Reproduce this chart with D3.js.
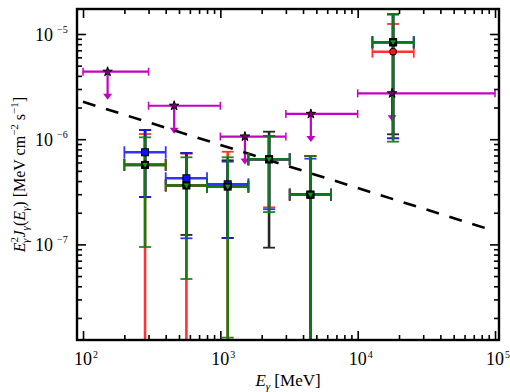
<!DOCTYPE html>
<html>
<head>
<meta charset="utf-8">
<script src="https://cdn.jsdelivr.net/npm/d3@7"></script>
<style>
body { margin: 0; background: #fff; }
text { font-family: "Liberation Serif", "Times New Roman", serif; fill: #000; }
</style>
</head>
<body>
<div id="chart"></div>
<script>
// energy bins in MeV
var binCenter = [283, 566, 1131, 2263, 4525, 18100];
var binLow = [200, 400, 800, 1600, 3200, 12800];
var binHigh = [400, 800, 1600, 3200, 6400, 25600];

// E^2 J values (MeV cm^-2 s^-1), lower and upper ends of the error bars
var blackVal = [5.69e-7, 3.63e-7, 3.54e-7, 6.44e-7, 2.97e-7, 8.34e-6];
var blackLo = [2.82e-7, 1.23e-7, 1.15e-7, 9.31e-8, 1e-10, 1.113e-6];
var blackHi = [1.22e-6, 7.39e-7, 6.30e-7, 1.179e-6, 6.92e-7, 1.538e-5];

var redVal = [5.77e-7, 3.63e-7, 3.54e-7, 6.44e-7, 2.97e-7, 6.79e-6];
var redLo = [1e-10, 1e-10, 1e-10, 2.25e-7, 1e-10, 1.02e-6];
var redHi = [1.12e-6, 7.28e-7, 7.60e-7, 1.073e-6, 6.92e-7, 1.245e-5];

var blueVal = [7.51e-7, 4.25e-7, 3.73e-7, 6.44e-7, 2.97e-7, 8.34e-6];
var blueLo = [2.82e-7, 1.143e-7, 1.15e-7, 2.16e-7, 1e-10, 1.02e-6];
var blueHi = [1.223e-6, 7.39e-7, 6.11e-7, 1.073e-6, 6.53e-7, 1.538e-5];

var greenVal = [5.69e-7, 3.63e-7, 3.54e-7, 6.44e-7, 2.97e-7, 8.34e-6];
var greenLo = [9.45e-8, 4.69e-8, 1.30e-8, 2.03e-7, 1e-10, 9.47e-7];
var greenHi = [1.042e-6, 6.73e-7, 6.73e-7, 1.073e-6, 6.92e-7, 1.538e-5];

// upper limits (magenta)
var ulE = [151, 461, 1510, 4560, 17800];
var ulLow = [100, 300, 1000, 3000, 10000];
var ulHigh = [300, 1000, 3000, 10000, 100000];
var ulVal = [4.38e-6, 2.08e-6, 1.06e-6, 1.74e-6, 2.73e-6];

// dashed power law
var lineE = [100, 100000];
var lineVal = [2.27e-6, 1.337e-7];

// ticks
var xMajor = [1e2, 1e3, 1e4, 1e5];
var xExp = ["2", "3", "4", "5"];
var yMajor = [1e-5, 1e-6, 1e-7];
var yExp = ["\u22125", "\u22126", "\u22127"];

var svgWidth = 510;
var svgHeight = 392;
var pLeft = 77, pRight = 499, pTop = 9, pBottom = 340;

var svg = d3.select("#chart")
  .append("svg")
  .attr("width", svgWidth)
  .attr("height", svgHeight);

var x = d3.scaleLog().domain([90.4, 1.069e5]).range([pLeft, pRight]);
var y = d3.scaleLog().domain([1.234e-8, 1.728e-5]).range([pBottom, pTop]);

svg.append("clipPath").attr("id", "clip")
  .append("rect")
  .attr("x", pLeft).attr("y", pTop)
  .attr("width", pRight - pLeft).attr("height", pBottom - pTop);

var plot = svg.append("g").attr("clip-path", "url(#clip)");

// minor tick values
var xMinor = [];
[1e2, 1e3, 1e4].forEach(function(d) {
  for (var k = 2; k < 10; k++) xMinor.push(k * d);
});
var yMinor = [];
[1e-8, 1e-7, 1e-6, 1e-5].forEach(function(d) {
  for (var k = 2; k < 10; k++) {
    var v = k * d;
    if (v > y.domain()[0] && v < y.domain()[1]) yMinor.push(v);
  }
});

function drawAxis(axisFn, scale, vals, len, tr) {
  var g = svg.append("g")
    .attr("transform", tr)
    .call(axisFn(scale).tickValues(vals).tickSize(-len).tickFormat(""));
  g.select(".domain").remove();
  g.selectAll("line").attr("stroke", "#000").attr("stroke-width", 1.6);
}

drawAxis(d3.axisBottom, x, xMajor, 9, `translate(0,${pBottom})`);
drawAxis(d3.axisBottom, x, xMinor, 5, `translate(0,${pBottom})`);
drawAxis(d3.axisTop, x, xMajor, 9, `translate(0,${pTop})`);
drawAxis(d3.axisTop, x, xMinor, 5, `translate(0,${pTop})`);
drawAxis(d3.axisLeft, y, yMajor, 9, `translate(${pLeft},0)`);
drawAxis(d3.axisLeft, y, yMinor, 5, `translate(${pLeft},0)`);
drawAxis(d3.axisRight, y, yMajor, 9, `translate(${pRight},0)`);
drawAxis(d3.axisRight, y, yMinor, 5, `translate(${pRight},0)`);

svg.append("rect")
  .attr("x", pLeft).attr("y", pTop)
  .attr("width", pRight - pLeft).attr("height", pBottom - pTop)
  .attr("fill", "none")
  .attr("stroke", "#000")
  .attr("stroke-width", 2.4);

// tick labels
xMajor.forEach(function(d, i) {
  svg.append("text")
    .attr("x", x(d)).attr("y", 365)
    .attr("text-anchor", "middle")
    .attr("font-size", 18)
    .text("10");
  svg.append("text")
    .attr("x", x(d) + 10).attr("y", 358)
    .attr("font-size", 10)
    .text(xExp[i]);
});
yMajor.forEach(function(d, i) {
  svg.append("text")
    .attr("x", 53).attr("y", y(d) + 7)
    .attr("text-anchor", "end")
    .attr("font-size", 18)
    .text("10");
  svg.append("text")
    .attr("x", 57).attr("y", y(d) - 1)
    .attr("font-size", 10)
    .text(yExp[i]);
});

// axis titles
var xt = svg.append("text")
  .attr("x", (pLeft + pRight) / 2).attr("y", 386)
  .attr("text-anchor", "middle")
  .attr("font-size", 17);
xt.append("tspan").attr("font-style", "italic").text("E");
xt.append("tspan").attr("font-size", 11).attr("dy", 4).attr("font-style", "italic").text("\u03b3");
xt.append("tspan").attr("dy", -4).text(" [MeV]");

var yt = svg.append("text")
  .attr("transform", `translate(25,${(pTop + pBottom) / 2}) rotate(-90)`)
  .attr("text-anchor", "middle")
  .attr("font-size", 16);
yt.append("tspan").attr("font-style", "italic").text("E");
yt.append("tspan").attr("font-size", 11).attr("dy", -7).text("2");
yt.append("tspan").attr("font-size", 11).attr("font-style", "italic").attr("dx", -6).attr("dy", 11).text("\u03b3");
yt.append("tspan").attr("font-style", "italic").attr("dx", 1).attr("dy", -4).text("J");
yt.append("tspan").attr("font-size", 11).attr("font-style", "italic").attr("dy", 4).text("\u03b3");
yt.append("tspan").attr("dy", -4).text("(");
yt.append("tspan").attr("font-style", "italic").text("E");
yt.append("tspan").attr("font-size", 11).attr("font-style", "italic").attr("dy", 4).text("\u03b3");
yt.append("tspan").attr("dy", -4).text(") [MeV cm");
yt.append("tspan").attr("font-size", 11).attr("dy", -7).text("\u22122");
yt.append("tspan").attr("dy", 7).text(" s");
yt.append("tspan").attr("font-size", 11).attr("dy", -7).text("\u22121");
yt.append("tspan").attr("dy", 7).text("]");

// upper limits: bars and arrows
var magenta = "#c400c4";
var arrowLen = 28;
ulE.forEach(function(e, i) {
  var px = x(e), py = y(ulVal[i]);
  plot.append("line")
    .attr("x1", x(ulLow[i])).attr("x2", x(ulHigh[i]))
    .attr("y1", py).attr("y2", py)
    .attr("stroke", magenta).attr("stroke-width", 2.2);
  [ulLow[i], ulHigh[i]].forEach(function(b) {
    plot.append("line")
      .attr("x1", x(b)).attr("x2", x(b))
      .attr("y1", py - 4).attr("y2", py + 4)
      .attr("stroke", magenta).attr("stroke-width", 1.5);
  });
  plot.append("line")
    .attr("x1", px).attr("x2", px)
    .attr("y1", py).attr("y2", py + arrowLen - 5)
    .attr("stroke", magenta).attr("stroke-width", 2.2);
  plot.append("path")
    .attr("d", `M${px - 4.5},${py + arrowLen - 6}L${px + 4.5},${py + arrowLen - 6}L${px},${py + arrowLen}Z`)
    .attr("fill", magenta);
});

// dashed line
plot.append("path")
  .datum(lineE.map(function(e, i) { return [e, lineVal[i]]; }))
  .attr("d", d3.line().x(d => x(d[0])).y(d => y(d[1])))
  .attr("fill", "none")
  .attr("stroke", "#000")
  .attr("stroke-width", 2.6)
  .attr("stroke-dasharray", "13,11");

// error bars for each analysis
var series = [
  { color: "#000000", val: blackVal, lo: blackLo, hi: blackHi, op: 0.85 },
  { color: "#ff1010", val: redVal, lo: redLo, hi: redHi, op: 0.85 },
  { color: "#1010ff", val: blueVal, lo: blueLo, hi: blueHi, op: 0.85 },
  { color: "#0a820a", val: greenVal, lo: greenLo, hi: greenHi, op: 0.92 }
];

series.forEach(function(s) {
  var g = plot.append("g").attr("stroke", s.color).attr("opacity", s.op);
  binCenter.forEach(function(e, i) {
    var px = x(e), py = y(s.val[i]);
    g.append("line")
      .attr("x1", px).attr("x2", px)
      .attr("y1", y(s.hi[i])).attr("y2", y(s.lo[i]))
      .attr("stroke-width", 2.6);
    [s.hi[i], s.lo[i]].forEach(function(v) {
      g.append("line")
        .attr("x1", px - 6).attr("x2", px + 6)
        .attr("y1", y(v)).attr("y2", y(v))
        .attr("stroke-width", 1.8);
    });
    g.append("line")
      .attr("x1", x(binLow[i])).attr("x2", x(binHigh[i]))
      .attr("y1", py).attr("y2", py)
      .attr("stroke-width", 2.6);
    [binLow[i], binHigh[i]].forEach(function(b) {
      g.append("line")
        .attr("x1", x(b)).attr("x2", x(b))
        .attr("y1", py - 6).attr("y2", py + 6)
        .attr("stroke-width", 1.8);
    });
  });
});

// markers: red circles, blue squares, black squares, green triangles
var mk = plot.append("g");
binCenter.forEach(function(e, i) {
  mk.append("circle")
    .attr("cx", x(e)).attr("cy", y(redVal[i])).attr("r", 3.5)
    .attr("fill", "#ff1010").attr("stroke", "#000").attr("stroke-width", 1);
});
binCenter.forEach(function(e, i) {
  mk.append("rect")
    .attr("x", x(e) - 3.5).attr("y", y(blueVal[i]) - 3.5)
    .attr("width", 7).attr("height", 7)
    .attr("fill", "#1010ff").attr("stroke", "#000").attr("stroke-width", 1);
});
binCenter.forEach(function(e, i) {
  mk.append("rect")
    .attr("x", x(e) - 4).attr("y", y(blackVal[i]) - 4)
    .attr("width", 8).attr("height", 8)
    .attr("fill", "#000");
});
binCenter.forEach(function(e, i) {
  var px = x(e), py = y(greenVal[i]);
  mk.append("path")
    .attr("d", `M${px - 3.5},${py - 2.5}L${px + 3.5},${py - 2.5}L${px},${py + 3.5}Z`)
    .attr("fill", "#119911").attr("stroke", "#000").attr("stroke-width", 0.8);
});

// stars on the upper limits
ulE.forEach(function(e, i) {
  plot.append("path")
    .attr("transform", `translate(${x(e)},${y(ulVal[i])})`)
    .attr("d", d3.symbol().type(d3.symbolStar).size(28)())
    .attr("fill", "#7a007a").attr("stroke", "#000").attr("stroke-width", 1);
});
</script>
</body>
</html>
